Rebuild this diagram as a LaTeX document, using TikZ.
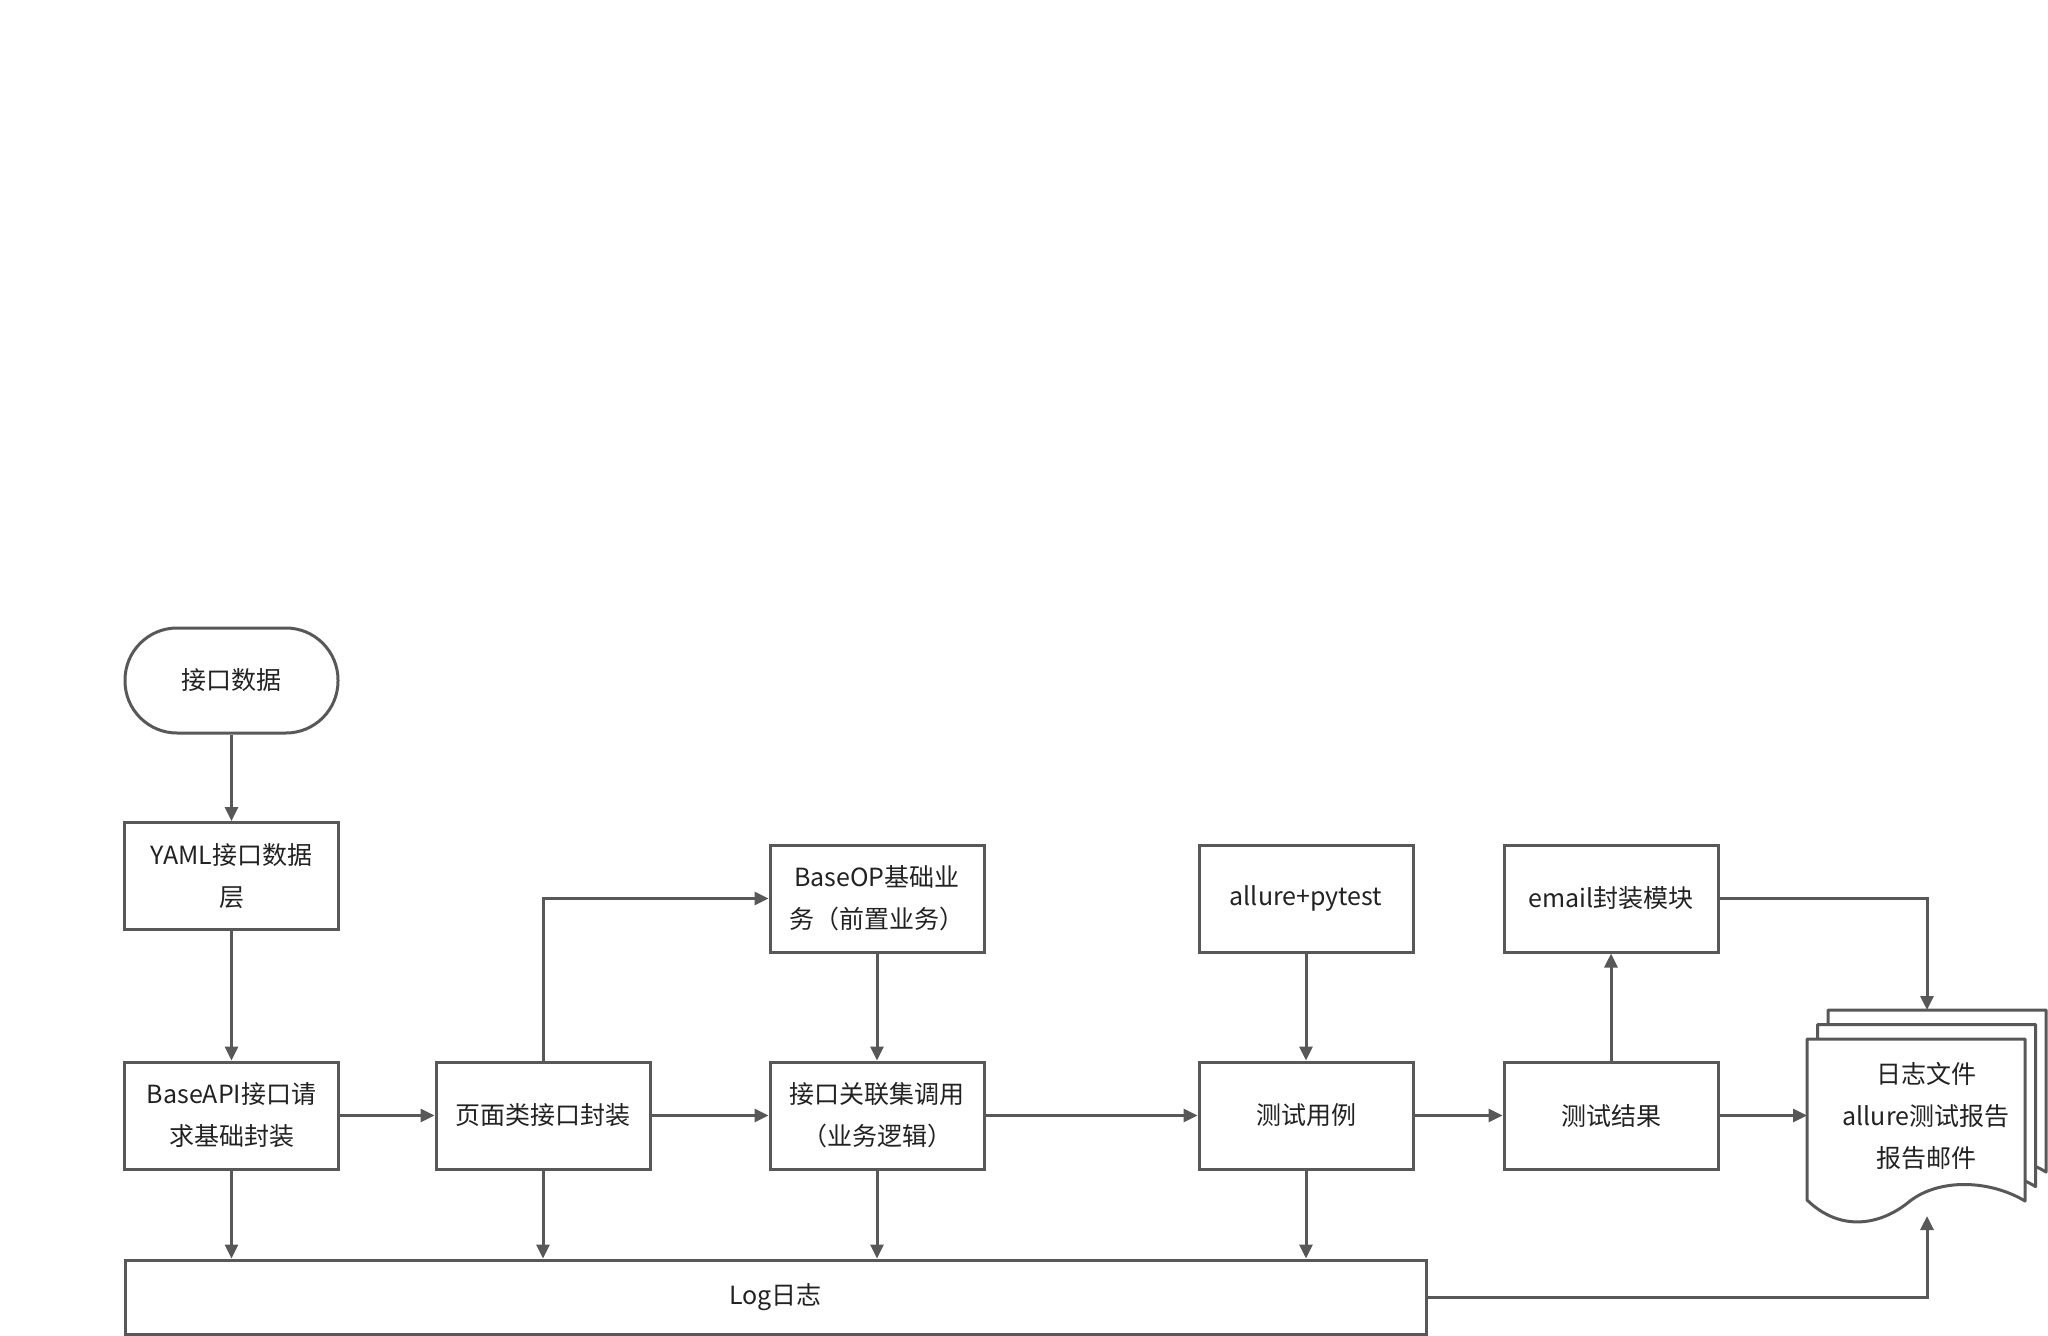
\documentclass[tikz,border=0pt]{standalone}
\usepackage{fontspec}
\setmainfont{Noto Sans CJK SC}
\usetikzlibrary{arrows.meta}
\definecolor{lc}{RGB}{88,88,88}
\definecolor{tc}{RGB}{34,34,34}
\newcommand{\fsz}{\fontsize{12.5pt}{21pt}\selectfont}
\tikzset{
  box/.style={draw=lc, line width=1.5pt, fill=white, minimum width=107pt, minimum height=53.5pt, inner sep=0pt, align=center, font=\fsz, text=tc},
  term/.style={box, rounded corners=26pt, minimum width=106.5pt, minimum height=52.5pt},
  arr/.style={draw=lc, line width=1.5pt, -{Triangle[length=7pt,width=6.5pt]}},
  docpath/.style={draw=lc, line width=1.5pt, fill=white, line join=round},
}
\begin{document}
\begin{tikzpicture}[x=0.5pt, y=-0.5pt]
\useasboundingbox (0,0) rectangle (2048,1336);
\fill[white] (0,0) rectangle (2048,1336);

% nodes
\node[term] (data) at (231.5,680.5) {接口数据};
\node[box] (yaml) at (231.5,876) {YAML接口数据\\层};
\node[box] (api) at (231.5,1115.5) {BaseAPI接口请\\求基础封装};
\node[box] (page) at (543,1115.5) {页面类接口封装};
\node[box] (op) at (877,898.5) {BaseOP基础业\\务（前置业务）};
\node[box] (rel) at (877,1115.5) {接口关联集调用\\（业务逻辑）};
\node[box] (ap) at (1306,898.5) {allure+pytest};
\node[box] (case) at (1306,1115.5) {测试用例};
\node[box] (mail) at (1611,898.5) {email封装模块};
\node[box] (res) at (1611,1115.5) {测试结果};
\node[box, minimum width=650.5pt, minimum height=37pt] (log) at (775.5,1297) {Log日志};

% multi-document shape
\foreach \dx/\dy in {21/-29, 10.5/-14.5, 0/0} {
  \begin{scope}[shift={(\dx,\dy)}]
    \path[docpath] (1807,1039) -- (2025,1039) -- (2025,1201)
      .. controls (1990,1180) and (1940,1178) .. (1910,1201)
      .. controls (1880,1226) and (1840,1232) .. (1807,1200) -- cycle;
  \end{scope}
}
\node[align=center, font=\fsz, text=tc, inner sep=0pt] (doc) at (1926,1116) {日志文件\\allure测试报告\\报告邮件};
\coordinate (dleft) at (1807,1115.5);
\coordinate (dtop) at (1927,1010);
\coordinate (dbot) at (1927,1216);

% connectors
\draw[arr] (data.south) -- (yaml.north);
\draw[arr] (yaml.south) -- (api.north);
\draw[arr] (api.east) -- (page.west);
\draw[arr] (page.north) |- (op.west);
\draw[arr] (op.south) -- (rel.north);
\draw[arr] (page.east) -- (rel.west);
\draw[arr] (rel.east) -- (case.west);
\draw[arr] (ap.south) -- (case.north);
\draw[arr] (case.east) -- (res.west);
\draw[arr] (res.north) -- (mail.south);
\draw[arr] (res.east) -- (dleft);
\draw[arr] (mail.east) -| (dtop);
\draw[arr] (log.east) -| (dbot);
\draw[arr] (api.south) -- (api.south |- log.north);
\draw[arr] (page.south) -- (page.south |- log.north);
\draw[arr] (rel.south) -- (rel.south |- log.north);
\draw[arr] (case.south) -- (case.south |- log.north);
\end{tikzpicture}
\end{document}
